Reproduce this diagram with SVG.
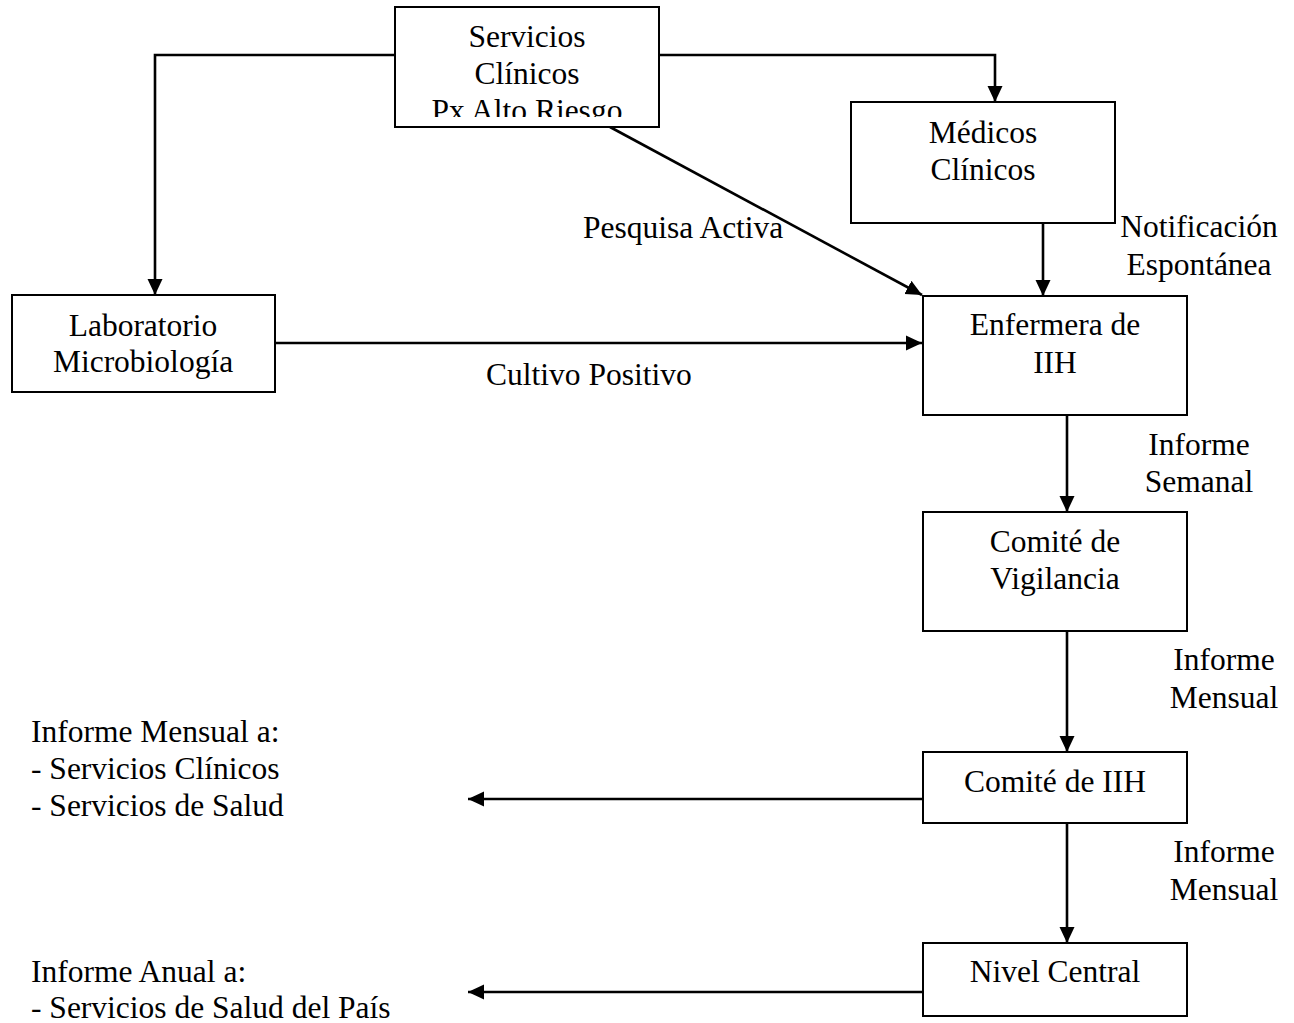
<svg xmlns="http://www.w3.org/2000/svg" width="1294" height="1023" viewBox="0 0 1294 1023">
<style>
  .box { fill: #fff; stroke: #000; stroke-width: 2; }
  .t { font-family: "Liberation Serif", "Times New Roman", serif; font-size: 31.5px; fill: #000; }
  .c { text-anchor: middle; }
  .ln { fill: none; stroke: #000; stroke-width: 2.6; marker-end: url(#ah); }
</style>
<defs>
  <marker id="ah" markerUnits="userSpaceOnUse" markerWidth="17" markerHeight="16" refX="16" refY="8" orient="auto">
    <path d="M0,0.5 L16,8 L0,15.5 z" fill="#000"/>
  </marker>
  <clipPath id="clipTop"><rect x="395" y="7" width="264" height="110"/></clipPath>
</defs>
<rect width="1294" height="1023" fill="#fff"/>

<g id="connectors">
  <path class="ln" d="M395,55 H155 V295"/>
  <path class="ln" d="M659,55 H995 V102"/>
  <path class="ln" d="M610,127 L922,295"/>
  <path class="ln" d="M1043,223 V296"/>
  <path class="ln" d="M275,343 H922"/>
  <path class="ln" d="M1067,415 V512"/>
  <path class="ln" d="M1067,631 V752"/>
  <path class="ln" d="M1067,823 V943"/>
  <path class="ln" d="M923,799 H468"/>
  <path class="ln" d="M923,992 H468"/>
</g>

<g id="servicios">
  <rect class="box" x="395" y="7" width="264" height="120"/>
  <g clip-path="url(#clipTop)">
    <text class="t c" x="527" y="47">Servicios</text>
    <text class="t c" x="527" y="84">Clínicos</text>
    <text class="t c" x="527" y="121">Px Alto Riesgo</text>
  </g>
</g>

<g id="medicos">
  <rect class="box" x="851" y="102" width="264" height="121"/>
  <text class="t c" x="983" y="143">Médicos</text>
  <text class="t c" x="983" y="180">Clínicos</text>
</g>

<g id="laboratorio">
  <rect class="box" x="12" y="295" width="263" height="97"/>
  <text class="t c" x="143" y="336">Laboratorio</text>
  <text class="t c" x="143" y="372">Microbiología</text>
</g>

<g id="enfermera">
  <rect class="box" x="923" y="296" width="264" height="119"/>
  <text class="t c" x="1055" y="335">Enfermera de</text>
  <text class="t c" x="1055" y="373">IIH</text>
</g>

<g id="comite-vigilancia">
  <rect class="box" x="923" y="512" width="264" height="119"/>
  <text class="t c" x="1055" y="552">Comité de</text>
  <text class="t c" x="1055" y="589">Vigilancia</text>
</g>

<g id="comite-iih">
  <rect class="box" x="923" y="752" width="264" height="71"/>
  <text class="t c" x="1055" y="792">Comité de IIH</text>
</g>

<g id="nivel-central">
  <rect class="box" x="923" y="943" width="264" height="73"/>
  <text class="t c" x="1055" y="982">Nivel Central</text>
</g>

<g id="labels">
  <text class="t" x="583" y="238">Pesquisa Activa</text>
  <text class="t" x="486" y="385">Cultivo Positivo</text>
  <text class="t c" x="1199" y="237">Notificación</text>
  <text class="t c" x="1199" y="275">Espontánea</text>
  <text class="t c" x="1199" y="455">Informe</text>
  <text class="t c" x="1199" y="492">Semanal</text>
  <text class="t c" x="1224" y="670">Informe</text>
  <text class="t c" x="1224" y="708">Mensual</text>
  <text class="t c" x="1224" y="862">Informe</text>
  <text class="t c" x="1224" y="900">Mensual</text>
  <text class="t" x="31" y="742">Informe Mensual a:</text>
  <text class="t" x="31" y="779">- Servicios Clínicos</text>
  <text class="t" x="31" y="816">- Servicios de Salud</text>
  <text class="t" x="31" y="982">Informe Anual a:</text>
  <text class="t" x="31" y="1018">- Servicios de Salud del País</text>
</g>
</svg>
